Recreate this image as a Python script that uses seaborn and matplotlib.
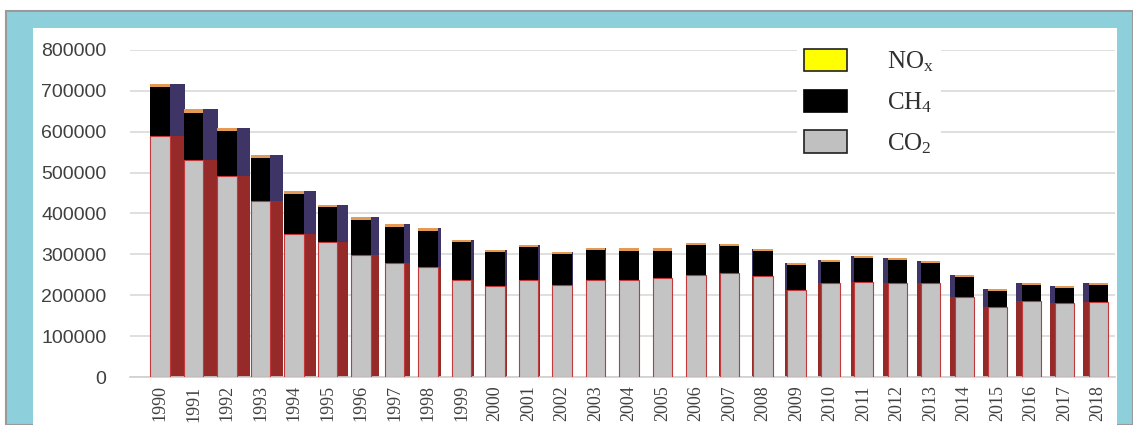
import numpy as np
import pandas as pd
import matplotlib
matplotlib.use("Agg")
import matplotlib.pyplot as plt
from matplotlib.patches import Rectangle, Patch
import seaborn as sns

# Emissions by year (CO2-equivalent)
years = [str(y) for y in range(1990, 2019)]
co2 = [590000, 532000, 492000, 430000, 350000, 330000, 298000, 280000, 270000, 238000,
       222000, 238000, 226000, 238000, 238000, 243000, 250000, 255000, 246000, 213000,
       230000, 232000, 230000, 230000, 196000, 172000, 186000, 181000, 183000]
ch4 = [119000, 115000, 110000, 105000, 98000, 85000, 87000, 87000, 88000, 92000,
       83000, 80000, 75000, 72000, 71000, 66000, 73000, 65000, 62000, 61000,
       51000, 59000, 56000, 49000, 49000, 39000, 40000, 37000, 43000]
nox = [9000, 8000, 8000, 7000, 7000, 7000, 7000, 7000, 7000, 6000,
       6000, 6000, 6000, 6000, 6000, 6000, 6000, 6000, 6000, 6000,
       6000, 6000, 6000, 6000, 5000, 5000, 5000, 5000, 5000]
series_labels = [r"NO$_\mathrm{x}$", r"CH$_\mathrm{4}$", r"CO$_\mathrm{2}$"]

df = pd.DataFrame({"year": years, "CO2": co2, "CH4": ch4, "NOx": nox})
df["co2_ch4"] = df["CO2"] + df["CH4"]
df["total"] = df["co2_ch4"] + df["NOx"]

sns.set_theme(style="white")
plt.rcParams["mathtext.fontset"] = "custom"
plt.rcParams["mathtext.rm"] = "Liberation Serif"
plt.rcParams["mathtext.it"] = "Liberation Serif:italic"

W, H = 1133, 425
fig = plt.figure(figsize=(W / 100, H / 100), dpi=100, facecolor="white")

# page frame: grey outline, light-blue border, white panel
blue = "#8ecfdc"
fig.patches.append(Rectangle((6 / W, 0), 1 - 6 / W, 1 - 11 / H, transform=fig.transFigure,
                             facecolor=blue, edgecolor="#9a9a9a", lw=1.5, zorder=-3))
fig.patches.append(Rectangle((33 / W, 0), (1117 - 33) / W, 1 - 28 / H, transform=fig.transFigure,
                             facecolor="white", edgecolor="none", zorder=-2))

ax = fig.add_axes([130 / W, 1 - 377 / H, (1115 - 130) / W, (377 - 50) / H])
ax.set_facecolor("none")

n = len(years)
idx = np.arange(n)
bw = 0.58

# side faces giving the bars some depth
depth = np.interp(idx, [0, 4, 6, 8, 11, 18, 22, 28],
                  [0.45, 0.36, 0.25, 0.08, 0.04, -0.05, -0.12, -0.17])
ax.bar(idx + depth, df["total"], width=bw, color="#3e3566", edgecolor="none", zorder=1)
ax.bar(idx + depth, df["CO2"], width=bw, color="#962a28", edgecolor="none", zorder=1)

# stacked fronts: NOx cap, CH4, CO2
sns.barplot(data=df, x="year", y="total", color="#e39a55", saturation=1, width=bw,
            edgecolor="none", ax=ax, zorder=2)
sns.barplot(data=df, x="year", y="co2_ch4", color="#000000", saturation=1, width=bw,
            edgecolor="none", ax=ax, zorder=3)
sns.barplot(data=df, x="year", y="CO2", color="#c4c4c4", saturation=1, width=bw,
            edgecolor="#c0393b", linewidth=0.8, ax=ax, zorder=4)

ax.set_ylim(0, 800000)
ax.set_xlim(-0.9, n - 0.5)
ax.set_yticks(np.arange(0, 800001, 100000))
ax.yaxis.grid(True, color="#d9d9d9", lw=1.2)
ax.set_axisbelow(True)
for s in ["top", "right", "left"]:
    ax.spines[s].set_visible(False)
ax.spines["bottom"].set_color("#d0d0d0")
ax.spines["bottom"].set_linewidth(1.2)
ax.set_xlabel("")
ax.set_ylabel("")
ax.tick_params(axis="y", length=0, pad=17, labelsize=14, labelcolor="#404040")
ax.tick_params(axis="x", length=0, pad=6, labelsize=13, labelcolor="#404040", rotation=90)
for lab in ax.get_yticklabels():
    lab.set_fontfamily("Liberation Sans")
for lab in ax.get_xticklabels():
    lab.set_fontfamily("Liberation Serif")

handles = [Patch(facecolor="#ffff00", edgecolor="#202020", lw=1.2),
           Patch(facecolor="#000000", edgecolor="#000000", lw=1.2),
           Patch(facecolor="#c0c0c0", edgecolor="#202020", lw=1.2)]
leg = ax.legend(handles, series_labels, loc="upper left", bbox_to_anchor=(0.664, 1.065),
                frameon=True, facecolor="white", edgecolor="none", framealpha=1,
                handlelength=1.7, handleheight=1.0, handletextpad=1.6, labelspacing=0.62,
                prop={"family": "Liberation Serif", "size": 18}, borderpad=0.3)
for t in leg.get_texts():
    t.set_color("#303030")

fig.savefig("out.png", dpi=100)
